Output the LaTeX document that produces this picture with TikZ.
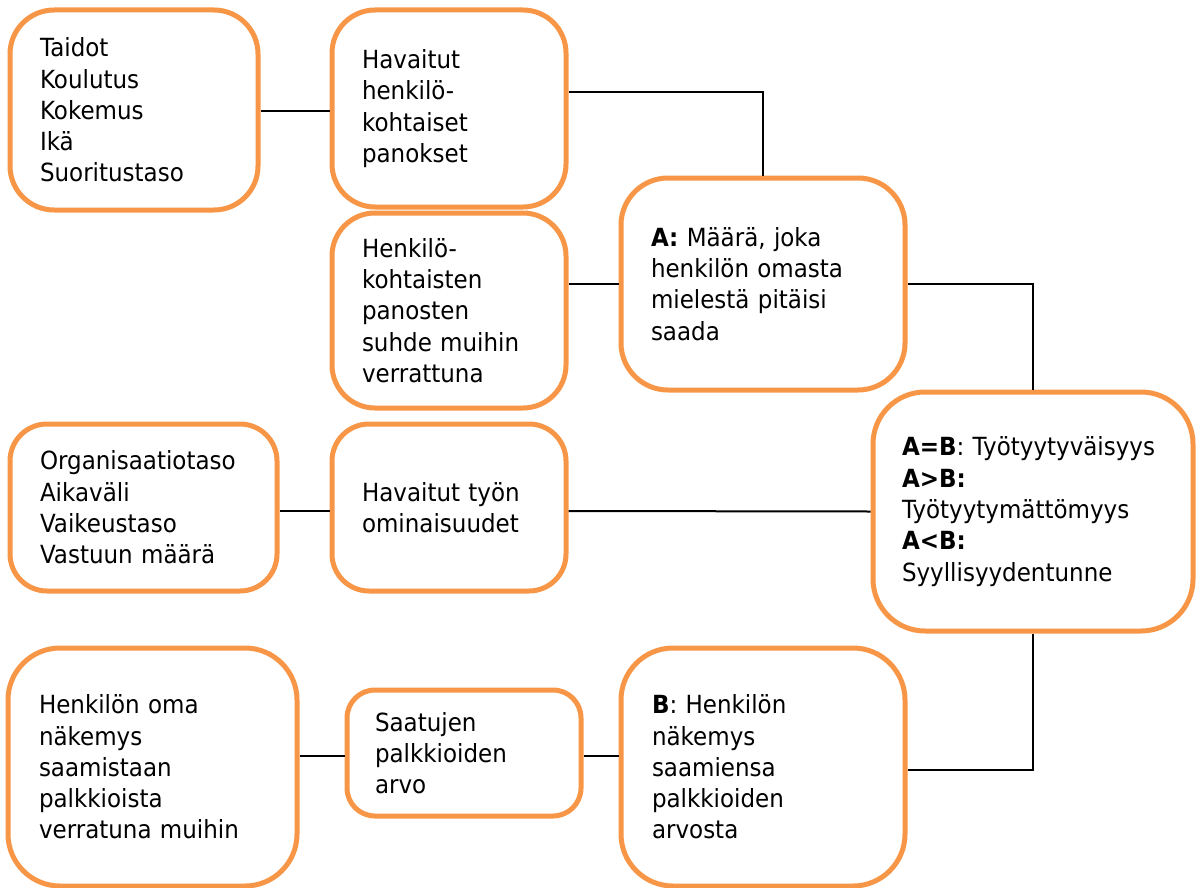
\documentclass[tikz,border=0pt]{standalone}
\usepackage{fontspec}
\setmainfont{DejaVu Sans}[FakeStretch=0.92]
\usetikzlibrary{calc}
\definecolor{boxorange}{RGB}{247,150,70}
\begin{document}
\begin{tikzpicture}[x=1pt,y=-1pt,
  box/.style={draw=boxorange, line width=5pt, fill=white, inner sep=0pt,
    align=left, font=\fontsize{25}{31.3}\selectfont},
  conn/.style={draw=black, line width=2pt}]
\useasboundingbox (0,0) rectangle (1201,888);

\node[box, minimum width=248pt, minimum height=200pt, text width=188pt, rounded corners=44pt] (b1) at (134,110)
  {Taidot\\Koulutus\\Kokemus\\Ikä\\Suoritustaso};
\node[box, minimum width=234pt, minimum height=197pt, text width=174pt, rounded corners=43pt] (b2) at (449,108.5)
  {Havaitut\\henkilö-\\kohtaiset\\panokset};
\node[box, minimum width=234pt, minimum height=195pt, text width=174pt, rounded corners=43pt] (b3) at (449,310.5)
  {Henkilö-\\kohtaisten\\panosten\\suhde muihin\\verrattuna};
\node[box, minimum width=284pt, minimum height=212pt, text width=224pt, rounded corners=47pt] (A) at (763,284)
  {\textbf{A:} Määrä, joka\\henkilön omasta\\mielestä pitäisi\\saada};
\node[box, minimum width=320pt, minimum height=239pt, text width=262pt, rounded corners=52pt] (AB) at (1033,511.5)
  {\textbf{A=B}: Työtyytyväisyys\\\textbf{A>B:}\\Työtyytymättömyys\\\textbf{A<B:}\\Syyllisyydentunne};
\node[box, minimum width=267pt, minimum height=167pt, text width=207pt, rounded corners=37pt] (b6) at (143.5,507.5)
  {Organisaatiotaso\\Aikaväli\\Vaikeustaso\\Vastuun määrä};
\node[box, minimum width=234pt, minimum height=167pt, text width=174pt, rounded corners=37pt] (b7) at (449,507.5)
  {Havaitut työn\\ominaisuudet};
\node[box, minimum width=289pt, minimum height=238pt, text width=227pt, rounded corners=52pt] (b8) at (152.5,767)
  {Henkilön oma\\näkemys\\saamistaan\\palkkioista\\verratuna muihin};
\node[box, minimum width=234pt, minimum height=126pt, text width=178pt, rounded corners=28pt] (b9) at (464,753)
  {Saatujen\\palkkioiden\\arvo};
\node[box, minimum width=284pt, minimum height=238pt, text width=222pt, rounded corners=52pt] (B) at (763,767)
  {\textbf{B}: Henkilön\\näkemys\\saamiensa\\palkkioiden\\arvosta};

\draw[conn] ($(b1.east)+(0,1)$) -- ($(b2.west)+(0,2.5)$);
\draw[conn] ($(b2.east)+(0,-16.5)$) -| (A.north);
\draw[conn] ($(b3.east)+(0,-26.5)$) -- (A.west);
\draw[conn] (A.east) -| (AB.north);
\draw[conn] ($(b6.east)+(0,3.5)$) -- ($(b7.west)+(0,3.5)$);
\draw[conn] ($(b7.east)+(0,3.5)$) -- (AB.west);
\draw[conn] ($(b8.east)+(0,-11)$) -- ($(b9.west)+(0,3)$);
\draw[conn] ($(b9.east)+(0,3)$) -- ($(B.west)+(0,-11)$);
\draw[conn] ($(B.east)+(0,3)$) -| (AB.south);
\end{tikzpicture}
\end{document}
